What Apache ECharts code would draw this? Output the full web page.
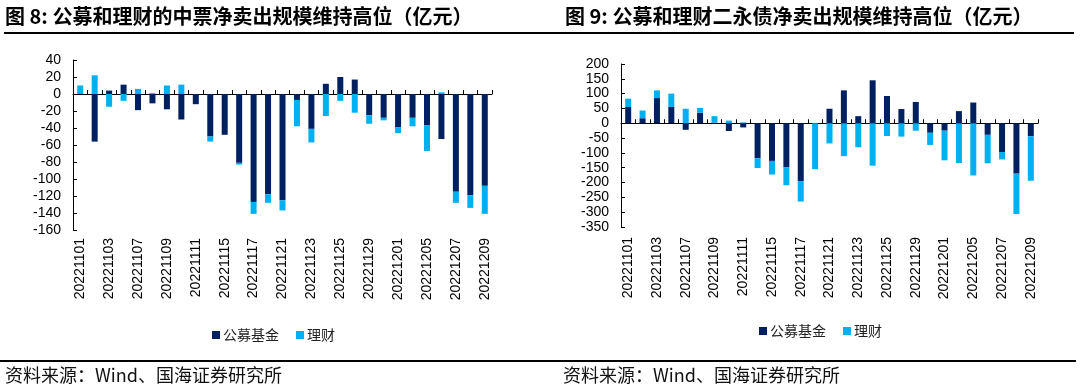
<!DOCTYPE html>
<html>
<head>
<meta charset="utf-8">
<script src="https://cdn.jsdelivr.net/npm/echarts@6/dist/echarts.min.js"></script>
<style>
html,body{margin:0;padding:0;background:#fff;}
#c{width:1080px;height:392px;}
</style>
</head>
<body>
<div id="c"></div>
<script>
const dates = ['20221101','20221102','20221103','20221104','20221107','20221108','20221109','20221110','20221111','20221114','20221115','20221116','20221117','20221118','20221121','20221122','20221123','20221124','20221125','20221128','20221129','20221130','20221201','20221202','20221205','20221206','20221207','20221208','20221209'];
const seriesNames = ['公募基金', '理财'];
// 图8 中票 (亿元)
const mtnFund   = [0, -56, 4, 11, -19, -11, -18, -30, -12, -50, -48, -81, -127, -118, -125, -7, -41, 12, 20, 17, -25, -28, -39, -28, -37, -53, -115, -119, -108];
const mtnWealth = [10, 22, -15, -8, 6, 1, 10, 11, 0, -6, 0, -2, -14, -10, -12, -31, -16, -26, -8, -22, -10, -3, -7, -10, -30, 2, -13, -15, -33];
// 图9 二永债 (亿元)
const perpFund   = [55, 17, 85, 55, -22, 36, 2, -26, -14, -118, -127, -148, -195, 0, 49, 111, 24, 145, 92, 48, 72, -32, -25, 41, 70, -39, -97, -170, -44];
const perpWealth = [28, 26, 26, 45, 49, 16, 22, 9, 3, -33, -46, -61, -69, -155, -68, -111, -81, -143, -43, -45, -25, -41, -100, -134, -176, -96, -25, -136, -150];
const title1 = '图 8: 公募和理财的中票净卖出规模维持高位（亿元）';
const title2 = '图 9: 公募和理财二永债净卖出规模维持高位（亿元）';
const sourceText = '资料来源：Wind、国海证券研究所';

const C_DARK = '#002060', C_LIGHT = '#00B0F0';
const numFont = '"Liberation Sans", Arial, sans-serif';
const cjkFont = '"Noto Sans CJK SC", sans-serif';

const chart = echarts.init(document.getElementById('c'), null, {renderer: 'canvas'});

function xAxes(gi, margin) {
  return [
    {type: 'category', gridIndex: gi, data: dates, position: 'bottom',
     axisLine: {onZero: true, lineStyle: {color: '#000', width: 1}},
     axisTick: {show: true, inside: true, length: 4, interval: 0, lineStyle: {color: '#000'}},
     axisLabel: {show: false}, splitLine: {show: false}},
    {type: 'category', gridIndex: gi, data: dates, position: 'bottom',
     axisLine: {show: false, onZero: false}, axisTick: {show: false},
     axisLabel: {rotate: 90, interval: 1, margin: margin, color: '#000', fontSize: 14, fontFamily: numFont},
     splitLine: {show: false}}
  ];
}
function yAxis(gi, min, max, interval) {
  return {type: 'value', gridIndex: gi, min: min, max: max, interval: interval,
    axisLine: {show: true, lineStyle: {color: '#000', width: 1}},
    axisTick: {show: true, inside: true, length: 4, lineStyle: {color: '#000'}},
    axisLabel: {color: '#000', fontSize: 14, fontFamily: numFont, margin: 12},
    splitLine: {show: false}};
}
function bars(name, data, xi, yi, color, stack) {
  return {name: name, type: 'bar', xAxisIndex: xi, yAxisIndex: yi, data: data, stack: stack,
    barWidth: 6, itemStyle: {color: color}, animation: false};
}
const legendText = {fontSize: 14, color: '#222', fontFamily: cjkFont, padding: [0, 0, 0, -2]};

chart.setOption({
  animation: false,
  grid: [
    {left: 73, top: 60, width: 419, height: 170},
    {left: 621, top: 64, width: 417, height: 163}
  ],
  xAxis: [...xAxes(0, 8), ...xAxes(1, 10)],
  yAxis: [yAxis(0, -160, 40, 20), yAxis(1, -350, 200, 50)],
  legend: [
    {data: seriesNames, left: 207, top: 323, itemWidth: 8, itemHeight: 8, itemGap: 17, icon: 'rect', textStyle: legendText},
    {data: seriesNames, left: 754, top: 319, itemWidth: 8, itemHeight: 8, itemGap: 17, icon: 'rect', textStyle: legendText}
  ],
  series: [
    bars(seriesNames[0], mtnFund, 0, 0, C_DARK, 'a'),
    bars(seriesNames[1], mtnWealth, 0, 0, C_LIGHT, 'a'),
    bars(seriesNames[0], perpFund, 2, 1, C_DARK, 'b'),
    bars(seriesNames[1], perpWealth, 2, 1, C_LIGHT, 'b')
  ],
  graphic: [
    {type: 'text', left: 5, top: 6, style: {text: title1, fontSize: 20, fontWeight: 'bold', fill: '#000', fontFamily: cjkFont}},
    {type: 'text', left: 565, top: 6, style: {text: title2, fontSize: 20, fontWeight: 'bold', fill: '#000', fontFamily: cjkFont}},
    {type: 'line', shape: {x1: 4, y1: 33, x2: 1074, y2: 33}, style: {stroke: '#000', lineWidth: 2}},
    {type: 'line', shape: {x1: 0, y1: 361, x2: 1076, y2: 361}, style: {stroke: '#000', lineWidth: 2}},
    {type: 'text', left: 5, top: 366, style: {text: sourceText, fontSize: 18, fill: '#111', fontFamily: cjkFont}},
    {type: 'text', left: 563, top: 366, style: {text: sourceText, fontSize: 18, fill: '#111', fontFamily: cjkFont}}
  ]
});
</script>
</body>
</html>
